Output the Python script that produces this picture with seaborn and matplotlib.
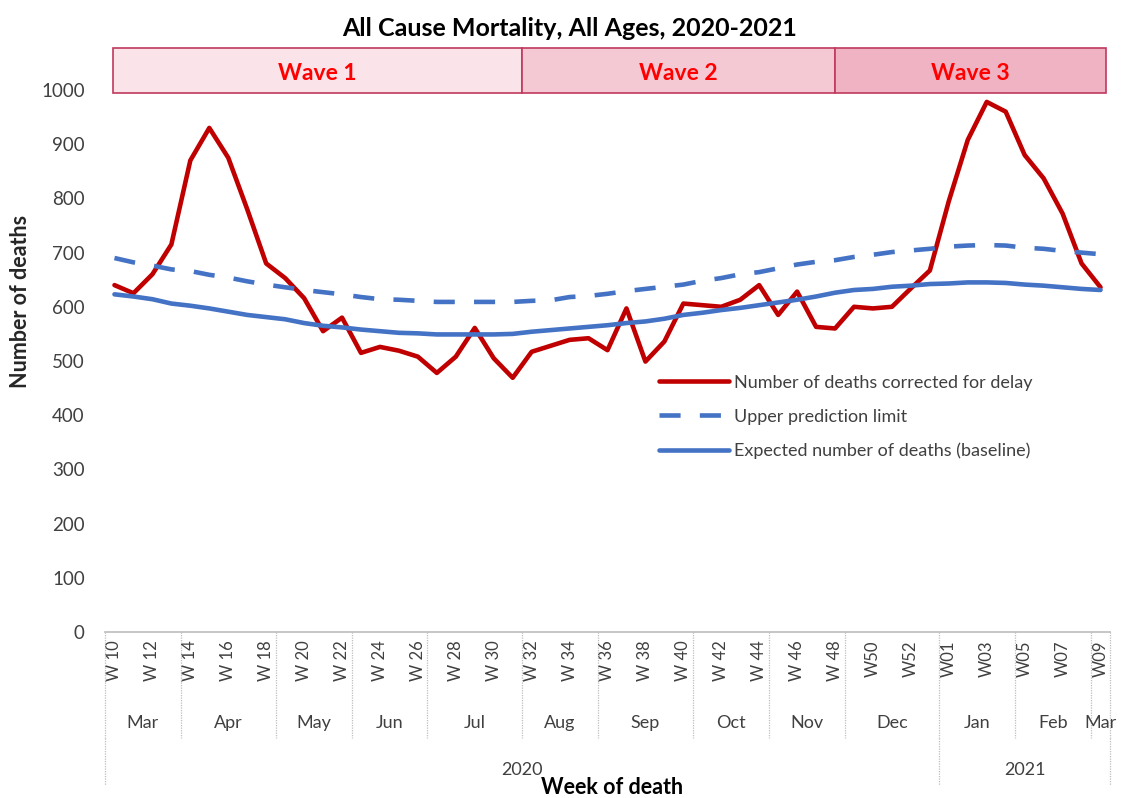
import numpy as np
import pandas as pd
import matplotlib
matplotlib.use("Agg")
import matplotlib.pyplot as plt
import matplotlib.transforms as mtransforms
from matplotlib.patches import Rectangle
import seaborn as sns

# ---------------- data ----------------
deaths = [640, 625, 660, 715, 870, 930, 875, 780, 680, 653, 616, 555, 580, 515,
          526, 519, 508, 478, 508, 561, 505, 469, 517, 528, 539, 542, 520, 597,
          499, 536, 606, 603, 600, 613, 640, 585, 628, 563, 560, 600, 597, 600,
          634, 667, 795, 908, 978, 960, 880, 837, 772, 680, 636]
upper_limit = [690, 682, 676, 669, 666, 659, 654, 647, 641, 636, 631, 627, 623, 618,
               614, 613, 611, 609, 609, 609, 609, 609, 611, 612, 618, 620, 624, 629,
               633, 637, 641, 648, 653, 660, 664, 671, 678, 683, 686, 692, 696, 701,
               704, 707, 711, 713, 714, 713, 709, 707, 703, 700, 697]
baseline = [623, 619, 614, 606, 602, 597, 591, 585, 581, 577, 570, 565, 562, 558,
            555, 552, 551, 549, 549, 549, 549, 550, 554, 557, 560, 563, 566, 570,
            573, 578, 585, 589, 594, 598, 603, 608, 613, 619, 626, 631, 633, 637,
            639, 642, 643, 645, 645, 644, 641, 639, 636, 633, 631]

series_names = ["Number of deaths corrected for delay",
                "Upper prediction limit",
                "Expected number of deaths (baseline)"]

week_tick_labels = ["W 10", "W 12", "W 14", "W 16", "W 18", "W 20", "W 22", "W 24",
                    "W 26", "W 28", "W 30", "W 32", "W 34", "W 36", "W 38", "W 40",
                    "W 42", "W 44", "W 46", "W 48", "W50", "W52", "W01", "W03",
                    "W05", "W07", "W09"]
months = ["Mar", "Apr", "May", "Jun", "Jul", "Aug", "Sep", "Oct", "Nov", "Dec",
          "Jan", "Feb", "Mar"]
month_weeks = [4, 5, 4, 4, 5, 4, 5, 4, 4, 5, 4, 4, 1]
years = ["2020", "2021"]
year_weeks = [44, 9]

waves = ["Wave 1", "Wave 2", "Wave 3"]
wave_bounds = [-0.1, 21.5, 38.0, 52.3]
wave_fills = ["#FBE3EA", "#F5C9D4", "#EFB3C3"]

y_ticks = [0, 100, 200, 300, 400, 500, 600, 700, 800, 900, 1000]

# ---------------- styling ----------------
sns.set_theme(style="white")
plt.rcParams["font.family"] = ["Lato", "DejaVu Sans"]

RED = "#C00000"
BLUE = "#4472C4"
GRID = "#BFBFBF"
TXT = "#404040"

n = len(deaths)
idx = np.arange(n)
df = pd.DataFrame({
    "idx": np.concatenate([idx, idx, idx]),
    "value": deaths + upper_limit + baseline,
    "series": np.repeat(series_names, n),
})

fig = plt.figure(figsize=(11.29, 7.98), dpi=100)
ax = fig.add_axes([105 / 1129, 1 - 632 / 798, 1005 / 1129, 542 / 798])

sns.lineplot(data=df, x="idx", y="value", hue="series", style="series",
             palette={series_names[0]: RED, series_names[1]: BLUE, series_names[2]: BLUE},
             dashes={series_names[0]: "", series_names[1]: (4.6, 4.2), series_names[2]: ""},
             linewidth=3.3, ax=ax, legend=True)

ax.set_xlim(-0.5, n - 0.5)
ax.set_ylim(0, 1000)
ax.set_yticks(y_ticks)
ax.set_yticklabels([str(v) for v in y_ticks], fontsize=13.5, color=TXT)
ax.set_xticks(np.arange(0, n, 2))
ax.set_xticklabels(week_tick_labels, rotation=90, fontsize=12, color=TXT)
ax.tick_params(axis="both", length=0)
ax.tick_params(axis="x", pad=6)
ax.tick_params(axis="y", pad=14.5)
for s in ["left", "right", "top"]:
    ax.spines[s].set_visible(False)
ax.spines["bottom"].set_color(GRID)
ax.spines["bottom"].set_linestyle((0, (1, 1)))
ax.set_xlabel("")
ax.set_ylabel("Number of deaths", fontsize=15.5, fontweight="bold")
ax.yaxis.set_label_coords(-0.074, 0.609)

# legend
handles, labels = ax.get_legend_handles_labels()
ax.legend(handles, labels, loc="upper left", bbox_to_anchor=(0.535, 0.505),
          frameon=False, fontsize=13, handlelength=3.9, labelspacing=1.0,
          handletextpad=0.25, labelcolor=TXT)

# multi-level category axis
trans = mtransforms.blended_transform_factory(ax.transData, ax.transAxes)
edges = np.concatenate([[0], np.cumsum(month_weeks)]) - 0.5
for k, m in enumerate(months):
    ax.text((edges[k] + edges[k + 1]) / 2, -0.168, m, transform=trans,
            ha="center", va="center", fontsize=13, color=TXT)
for e in edges:
    ax.plot([e, e], [0, -0.195], transform=trans, color=GRID, lw=0.9,
            ls=(0, (1, 1)), clip_on=False)
yedges = np.concatenate([[0], np.cumsum(year_weeks)]) - 0.5
for k, yname in enumerate(years):
    ax.text((yedges[k] + yedges[k + 1]) / 2, -0.255, yname, transform=trans,
            ha="center", va="center", fontsize=13, color=TXT)
for e in yedges:
    ax.plot([e, e], [-0.195, -0.282], transform=trans, color=GRID, lw=0.9,
            ls=(0, (1, 1)), clip_on=False)
ax.text(0.505, (632 - 794) / 542, "Week of death", transform=ax.transAxes,
        ha="center", va="baseline", fontsize=15.5, fontweight="bold", color="black")

# wave boxes
for k, w in enumerate(waves):
    x0, x1 = wave_bounds[k], wave_bounds[k + 1]
    ax.add_patch(Rectangle((x0, 995), x1 - x0, 83, facecolor=wave_fills[k],
                           edgecolor="#C0395E", lw=1.2, clip_on=False, zorder=3))
    ax.text((x0 + x1) / 2, 1031, w, ha="center", va="center", fontsize=16.5,
            fontweight="bold", color="#FF0000", zorder=4, clip_on=False)

fig.text(570 / 1129, 1 - 28 / 798, "All Cause Mortality, All Ages, 2020-2021",
         ha="center", va="center", fontsize=18, fontweight="bold", color="black")

fig.savefig("out.png", dpi=100, facecolor="white")
